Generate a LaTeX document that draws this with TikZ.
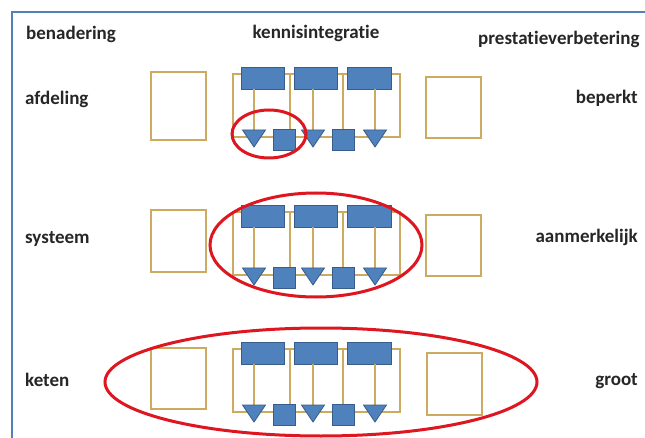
\documentclass[tikz,border=0pt]{standalone}
\usepackage{fontspec}
\setmainfont{Carlito}[Ligatures=NoCommon]
\definecolor{tanline}{RGB}{204,170,96}
\definecolor{boxblue}{RGB}{79,129,189}
\definecolor{boxedge}{RGB}{56,93,138}
\definecolor{framblue}{RGB}{79,129,189}
\definecolor{ringred}{RGB}{222,22,32}
\tikzset{
  tan/.style={draw=tanline, line width=2pt},
  sidebox/.style={draw=tanline, line width=2pt, minimum width=55pt, inner sep=0pt},
  bluebox/.style={draw=boxedge, fill=boxblue, line width=0.8pt, inner sep=0pt},
  bluetri/.style={draw=boxedge, fill=boxblue, line width=0.8pt},
  ring/.style={draw=ringred, line width=3pt},
  lbl/.style={font=\fontsize{19}{22}\selectfont\bfseries, inner sep=0pt, text=black!85}
}
\newcommand\knrow[2]{%
  \draw[tan] (233,#2) rectangle (400,#2+63);
  \draw[tan] (290,#2) -- (290,#2+63);
  \draw[tan] (343,#2) -- (343,#2+63);
  \node[bluebox, minimum width=43pt, minimum height=22pt] (#1b1) at (262.5,#2+4) {};
  \node[bluebox, minimum width=43pt, minimum height=22pt] (#1b2) at (315.5,#2+4) {};
  \node[bluebox, minimum width=44pt, minimum height=22pt] (#1b3) at (369.5,#2+4) {};
  \coordinate (#1t1) at (254,#2+56);
  \coordinate (#1t2) at (313,#2+56);
  \coordinate (#1t3) at (375,#2+56);
  \draw[tan] (#1b1.south -| #1t1) -- (#1t1);
  \draw[tan] (#1b2.south -| #1t2) -- (#1t2);
  \draw[tan] (#1b3.south -| #1t3) -- (#1t3);
  \foreach \k in {1,2,3}{
    \draw[bluetri] (#1t\k) ++(-11.5,0) -- ++(23,0) -- ++(-11.5,17) -- cycle;
  }
  \node[bluebox, minimum width=22pt, minimum height=21pt] (#1s1) at (284,#2+65.5) {};
  \node[bluebox, minimum width=22pt, minimum height=21pt] (#1s2) at (343,#2+65.5) {};
}
\begin{document}
\begin{tikzpicture}[x=1pt,y=-1pt]
\useasboundingbox (0,0) rectangle (645,438);
\clip (0,0) rectangle (645,438);
\fill[white] (0,0) rectangle (645,438);
\draw[draw=framblue, line width=2pt] (12,460) -- (12,12) -- (670,12);
% headers
\node[lbl, anchor=base west] (hb) at (26,40) {benadering};
\node[lbl, anchor=base] (hk) at (316,39) {kennisintegratie};
\node[lbl, anchor=base west] (hp) at (478,45) {prestatieverbetering};
% row labels
\node[lbl, anchor=base west] (la) at (25,105) {afdeling};
\node[lbl, anchor=base east] (ra) at (638,104) {beperkt};
\node[lbl, anchor=base west] (lb) at (25,244) {systeem};
\node[lbl, anchor=base east] (rb) at (638,243) {aanmerkelijk};
\node[lbl, anchor=base west] (lc) at (25,386) {keten};
\node[lbl, anchor=base east] (rc) at (638,385) {groot};
% side boxes
\node[sidebox, minimum height=68pt] (sa) at (178.5,106.5) {};
\node[sidebox, minimum height=61pt] (ea) at (453.5,108) {};
\node[sidebox, minimum height=62pt] (sb) at (178.5,241) {};
\node[sidebox, minimum height=61pt] (eb) at (453.5,245.5) {};
\node[sidebox, minimum height=61pt] (sc) at (178.5,378.5) {};
\node[sidebox, minimum height=62pt] (ec) at (454,384) {};
% rows
\knrow{a}{74}
\knrow{b}{212}
\knrow{c}{349}
% rings
\draw[ring] (269,134) ellipse [x radius=37pt, y radius=24pt];
\draw[ring] (316,245) ellipse [x radius=106pt, y radius=52pt];
\draw[ring] (321,382) ellipse [x radius=216pt, y radius=54pt];
\end{tikzpicture}
\end{document}
